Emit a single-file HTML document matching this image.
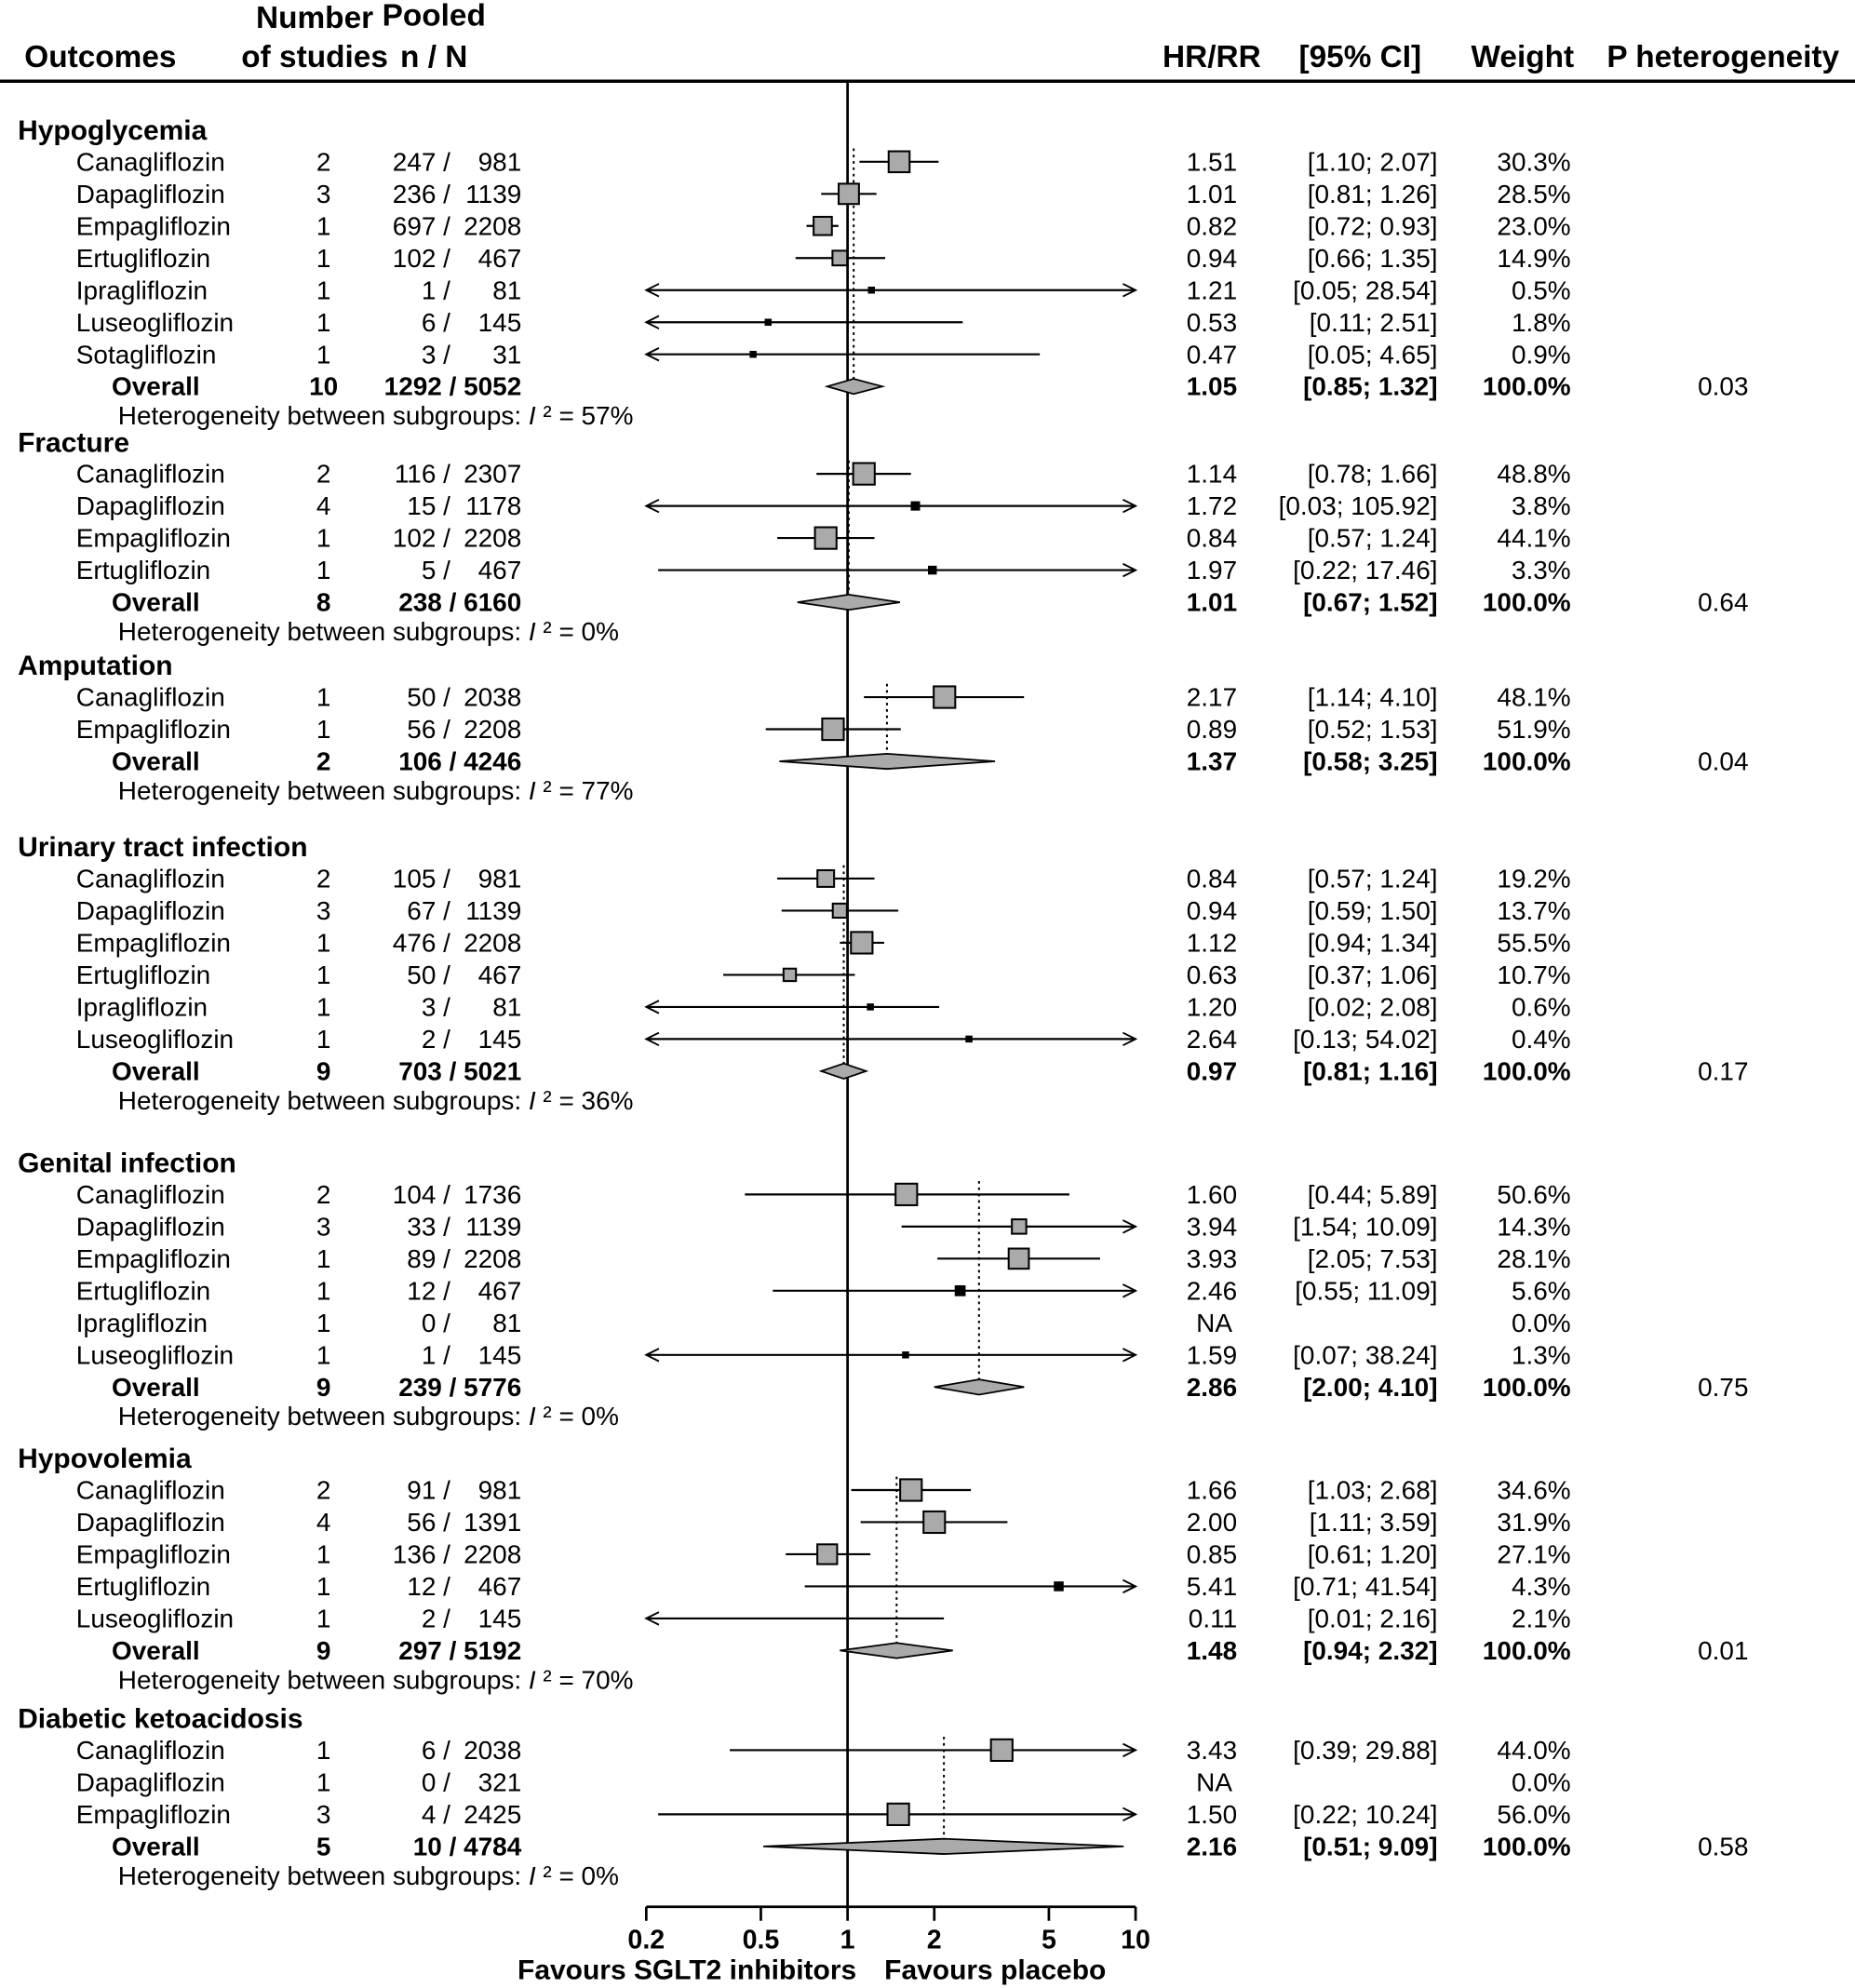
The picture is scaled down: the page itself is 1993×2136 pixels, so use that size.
<!DOCTYPE html>
<html><head><meta charset="utf-8"><style>
html,body{margin:0;padding:0;background:#fff}
svg{display:block;font-family:"Liberation Sans",Arial,sans-serif}
</style></head><body>
<svg id="chart" width="1993" height="2136" viewBox="0 0 1462 1567" preserveAspectRatio="none" xmlns="http://www.w3.org/2000/svg">
<g font-weight="bold" font-size="24.5" fill="#000">
<text x="139" y="53" text-anchor="end">Outcomes</text>
<text x="248" y="22" text-anchor="middle">Number</text>
<text x="248" y="53" text-anchor="middle">of studies</text>
<text x="342" y="20" text-anchor="middle">Pooled</text>
<text x="342" y="53" text-anchor="middle">n / N</text>
<text x="955" y="53" text-anchor="middle">HR/RR</text>
<text x="1072" y="53" text-anchor="middle">[95% CI]</text>
<text x="1200" y="53" text-anchor="middle">Weight</text>
<text x="1358" y="53" text-anchor="middle">P heterogeneity</text>
</g>
<line x1="0" y1="64" x2="1462" y2="64" stroke="#000" stroke-width="2.5"/>
<g id="plot"></g>
</svg>
<script>
const groupNames=["Hypoglycemia","Fracture","Amputation","Urinary tract infection","Genital infection","Hypovolemia","Diabetic ketoacidosis"];
const groupTitleY=[103,349,525,668,917,1150,1355];
const groupOverallK=[10,8,2,9,9,9,5];
const groupOverallN=["1292 / 5052","238 / 6160","106 / 4246","703 / 5021","239 / 5776","297 / 5192","10 / 4784"];
const groupHR=[1.05,1.01,1.37,0.97,2.86,1.48,2.16];
const groupLo=[0.85,0.67,0.58,0.81,2.00,0.94,0.51];
const groupHi=[1.32,1.52,3.25,1.16,4.10,2.32,9.09];
const groupP=["0.03","0.64","0.04","0.17","0.75","0.01","0.58"];
const groupI2=["57%","0%","77%","36%","0%","70%","0%"];
const studyGroup=[0,0,0,0,0,0,0,1,1,1,1,2,2,3,3,3,3,3,3,4,4,4,4,4,4,5,5,5,5,5,6,6,6];
const studyNames=["Canagliflozin","Dapagliflozin","Empagliflozin","Ertugliflozin","Ipragliflozin","Luseogliflozin","Sotagliflozin",
"Canagliflozin","Dapagliflozin","Empagliflozin","Ertugliflozin",
"Canagliflozin","Empagliflozin",
"Canagliflozin","Dapagliflozin","Empagliflozin","Ertugliflozin","Ipragliflozin","Luseogliflozin",
"Canagliflozin","Dapagliflozin","Empagliflozin","Ertugliflozin","Ipragliflozin","Luseogliflozin",
"Canagliflozin","Dapagliflozin","Empagliflozin","Ertugliflozin","Luseogliflozin",
"Canagliflozin","Dapagliflozin","Empagliflozin"];
const studyK=[2,3,1,1,1,1,1, 2,4,1,1, 1,1, 2,3,1,1,1,1, 2,3,1,1,1,1, 2,4,1,1,1, 1,1,3];
const studyEvents=[247,236,697,102,1,6,3, 116,15,102,5, 50,56, 105,67,476,50,3,2, 104,33,89,12,0,1, 91,56,136,12,2, 6,0,4];
const studyTotal=[981,1139,2208,467,81,145,31, 2307,1178,2208,467, 2038,2208, 981,1139,2208,467,81,145, 1736,1139,2208,467,81,145, 981,1391,2208,467,145, 2038,321,2425];
const studyHR=[1.51,1.01,0.82,0.94,1.21,0.53,0.47, 1.14,1.72,0.84,1.97, 2.17,0.89, 0.84,0.94,1.12,0.63,1.20,2.64, 1.60,3.94,3.93,2.46,null,1.59, 1.66,2.00,0.85,5.41,0.11, 3.43,null,1.50];
const studyLo=[1.10,0.81,0.72,0.66,0.05,0.11,0.05, 0.78,0.03,0.57,0.22, 1.14,0.52, 0.57,0.59,0.94,0.37,0.02,0.13, 0.44,1.54,2.05,0.55,null,0.07, 1.03,1.11,0.61,0.71,0.01, 0.39,null,0.22];
const studyHi=[2.07,1.26,0.93,1.35,28.54,2.51,4.65, 1.66,105.92,1.24,17.46, 4.10,1.53, 1.24,1.50,1.34,1.06,2.08,54.02, 5.89,10.09,7.53,11.09,null,38.24, 2.68,3.59,1.20,41.54,2.16, 29.88,null,10.24];
const studyW=[30.3,28.5,23.0,14.9,0.5,1.8,0.9, 48.8,3.8,44.1,3.3, 48.1,51.9, 19.2,13.7,55.5,10.7,0.6,0.4, 50.6,14.3,28.1,5.6,0.0,1.3, 34.6,31.9,27.1,4.3,2.1, 44.0,0.0,56.0];
const tickVals=[0.2,0.5,1,2,5,10];
const tickLabels=["0.2","0.5","1","2","5","10"];

const NS="http://www.w3.org/2000/svg";
const plot=document.getElementById('plot');
const XMIN=0.2,XMAX=10;
function xs(v){return 668+227*Math.log10(v);}
const XL=xs(XMIN),XR=xs(XMAX);
function mk(tag,attrs,parent){const e=document.createElementNS(NS,tag);for(const k in attrs)e.setAttribute(k,attrs[k]);(parent||plot).appendChild(e);return e;}
function txt(x,y,s,anchor,bold,size){const t=mk('text',{x:x,y:y+7,'text-anchor':anchor||'start','font-size':size||20.5,'font-weight':bold?'bold':'normal'});t.textContent=s;return t;}
function f2(v){return v.toFixed(2);}
function ciText(lo,hi){return "["+f2(lo)+"; "+f2(hi)+"]";}
function arrow(x,y,dir){mk('path',{d:`M${x+dir*-10},${y-5} L${x},${y} L${x+dir*-10},${y+5}`,fill:'none',stroke:'#000','stroke-width':1.4});}

let ref=mk('line',{x1:668,y1:64,x2:668,y2:1503,stroke:'#000','stroke-width':2});



const STEP=25.3;
groupNames.forEach((g,gi)=>{
  const ty=groupTitleY[gi];
  let t=txt(14,ty,g,'start',true,22);
  
  
  const idx=[];studyGroup.forEach((s,i)=>{if(s===gi)idx.push(i);});
  const oy=ty+24.5+idx.length*STEP;
  let dl=mk('line',{x1:xs(groupHR[gi]),y1:ty+14,x2:xs(groupHR[gi]),y2:oy-4,stroke:'#000','stroke-width':1.5,'stroke-dasharray':'2,3'});
  
  
  idx.forEach((i,j)=>{
    const y=ty+24.5+j*STEP;
    let r;
    r=txt(60,y,studyNames[i]);
    
    
    r=txt(255,y,String(studyK[i]),'middle');
    
    
    r=txt(355,y,studyEvents[i]+" /",'end');
    
    
    r=txt(411,y,String(studyTotal[i]),'end');
    
    
    r=txt(1238,y,studyW[i].toFixed(1)+"%",'end');
    
    
    if(studyHR[i]===null){
      r=txt(957,y,"NA",'middle');
      
      
      return;
    }
    r=txt(975,y,f2(studyHR[i]),'end');
    
    
    r=txt(1133,y,ciText(studyLo[i],studyHi[i]),'end');
    
    
    const x1=Math.max(XL,xs(Math.max(studyLo[i],1e-6))),x2=Math.min(XR,xs(studyHi[i]));
    let ln=mk('line',{x1:x1,y1:y,x2:x2,y2:y,stroke:'#000','stroke-width':1.6});
    
    
    if(studyLo[i]<XMIN)arrow(XL,y,-1);
    if(studyHi[i]>XMAX)arrow(XR,y,1);
    if(studyHR[i]>=XMIN&&studyHR[i]<=XMAX){
      const s=Math.max(4,Math.min(17,3*Math.sqrt(studyW[i])));
      const small=studyW[i]<6;
      let b=mk('rect',{x:xs(studyHR[i])-s/2,y:y-s/2,width:s,height:s,fill:small?'#000':'#aaa',stroke:'#000','stroke-width':1.5});
      
      
    }
  });
  let r;
  r=txt(88,oy,"Overall",'start',true);
  
  
  r=txt(255,oy,String(groupOverallK[gi]),'middle',true);
  
  
  r=txt(411,oy,groupOverallN[gi],'end',true);
  
  
  r=txt(975,oy,f2(groupHR[gi]),'end',true);
  
  
  r=txt(1133,oy,ciText(groupLo[gi],groupHi[gi]),'end',true);
  
  
  r=txt(1238,oy,"100.0%",'end',true);
  
  
  r=txt(1378,oy,groupP[gi],'end');
  
  
  const dx=xs(groupHR[gi]),dl2=xs(groupLo[gi]),dr=xs(groupHi[gi]);
  let d=mk('polygon',{points:`${dl2},${oy} ${dx},${oy-6} ${dr},${oy} ${dx},${oy+6}`,fill:'#aaa',stroke:'#000','stroke-width':1.3});
  
  
  const hy=oy+23;
  const ht=mk('text',{x:93,y:hy+7,'font-size':20.5});
  
  
  ht.appendChild(document.createTextNode("Heterogeneity between subgroups:  "));
  const it=mk('tspan',{'font-style':'italic'},ht);it.textContent="I";
  ht.appendChild(document.createTextNode(" ² = "+groupI2[gi]));
});

let ax=mk('line',{x1:XL,y1:1503,x2:XR,y2:1503,stroke:'#000','stroke-width':2});


tickVals.forEach((v,i)=>{
  let tk=mk('line',{x1:xs(v),y1:1503,x2:xs(v),y2:1514,stroke:'#000','stroke-width':2});
  
  
  let tl=txt(xs(v),1529,tickLabels[i],'middle',true,21);
  
  
});
let fl=txt(675,1553,"Favours SGLT2 inhibitors",'end',true,22);


let fr=txt(697,1553,"Favours placebo",'start',true,22);


</script>
</body></html>
